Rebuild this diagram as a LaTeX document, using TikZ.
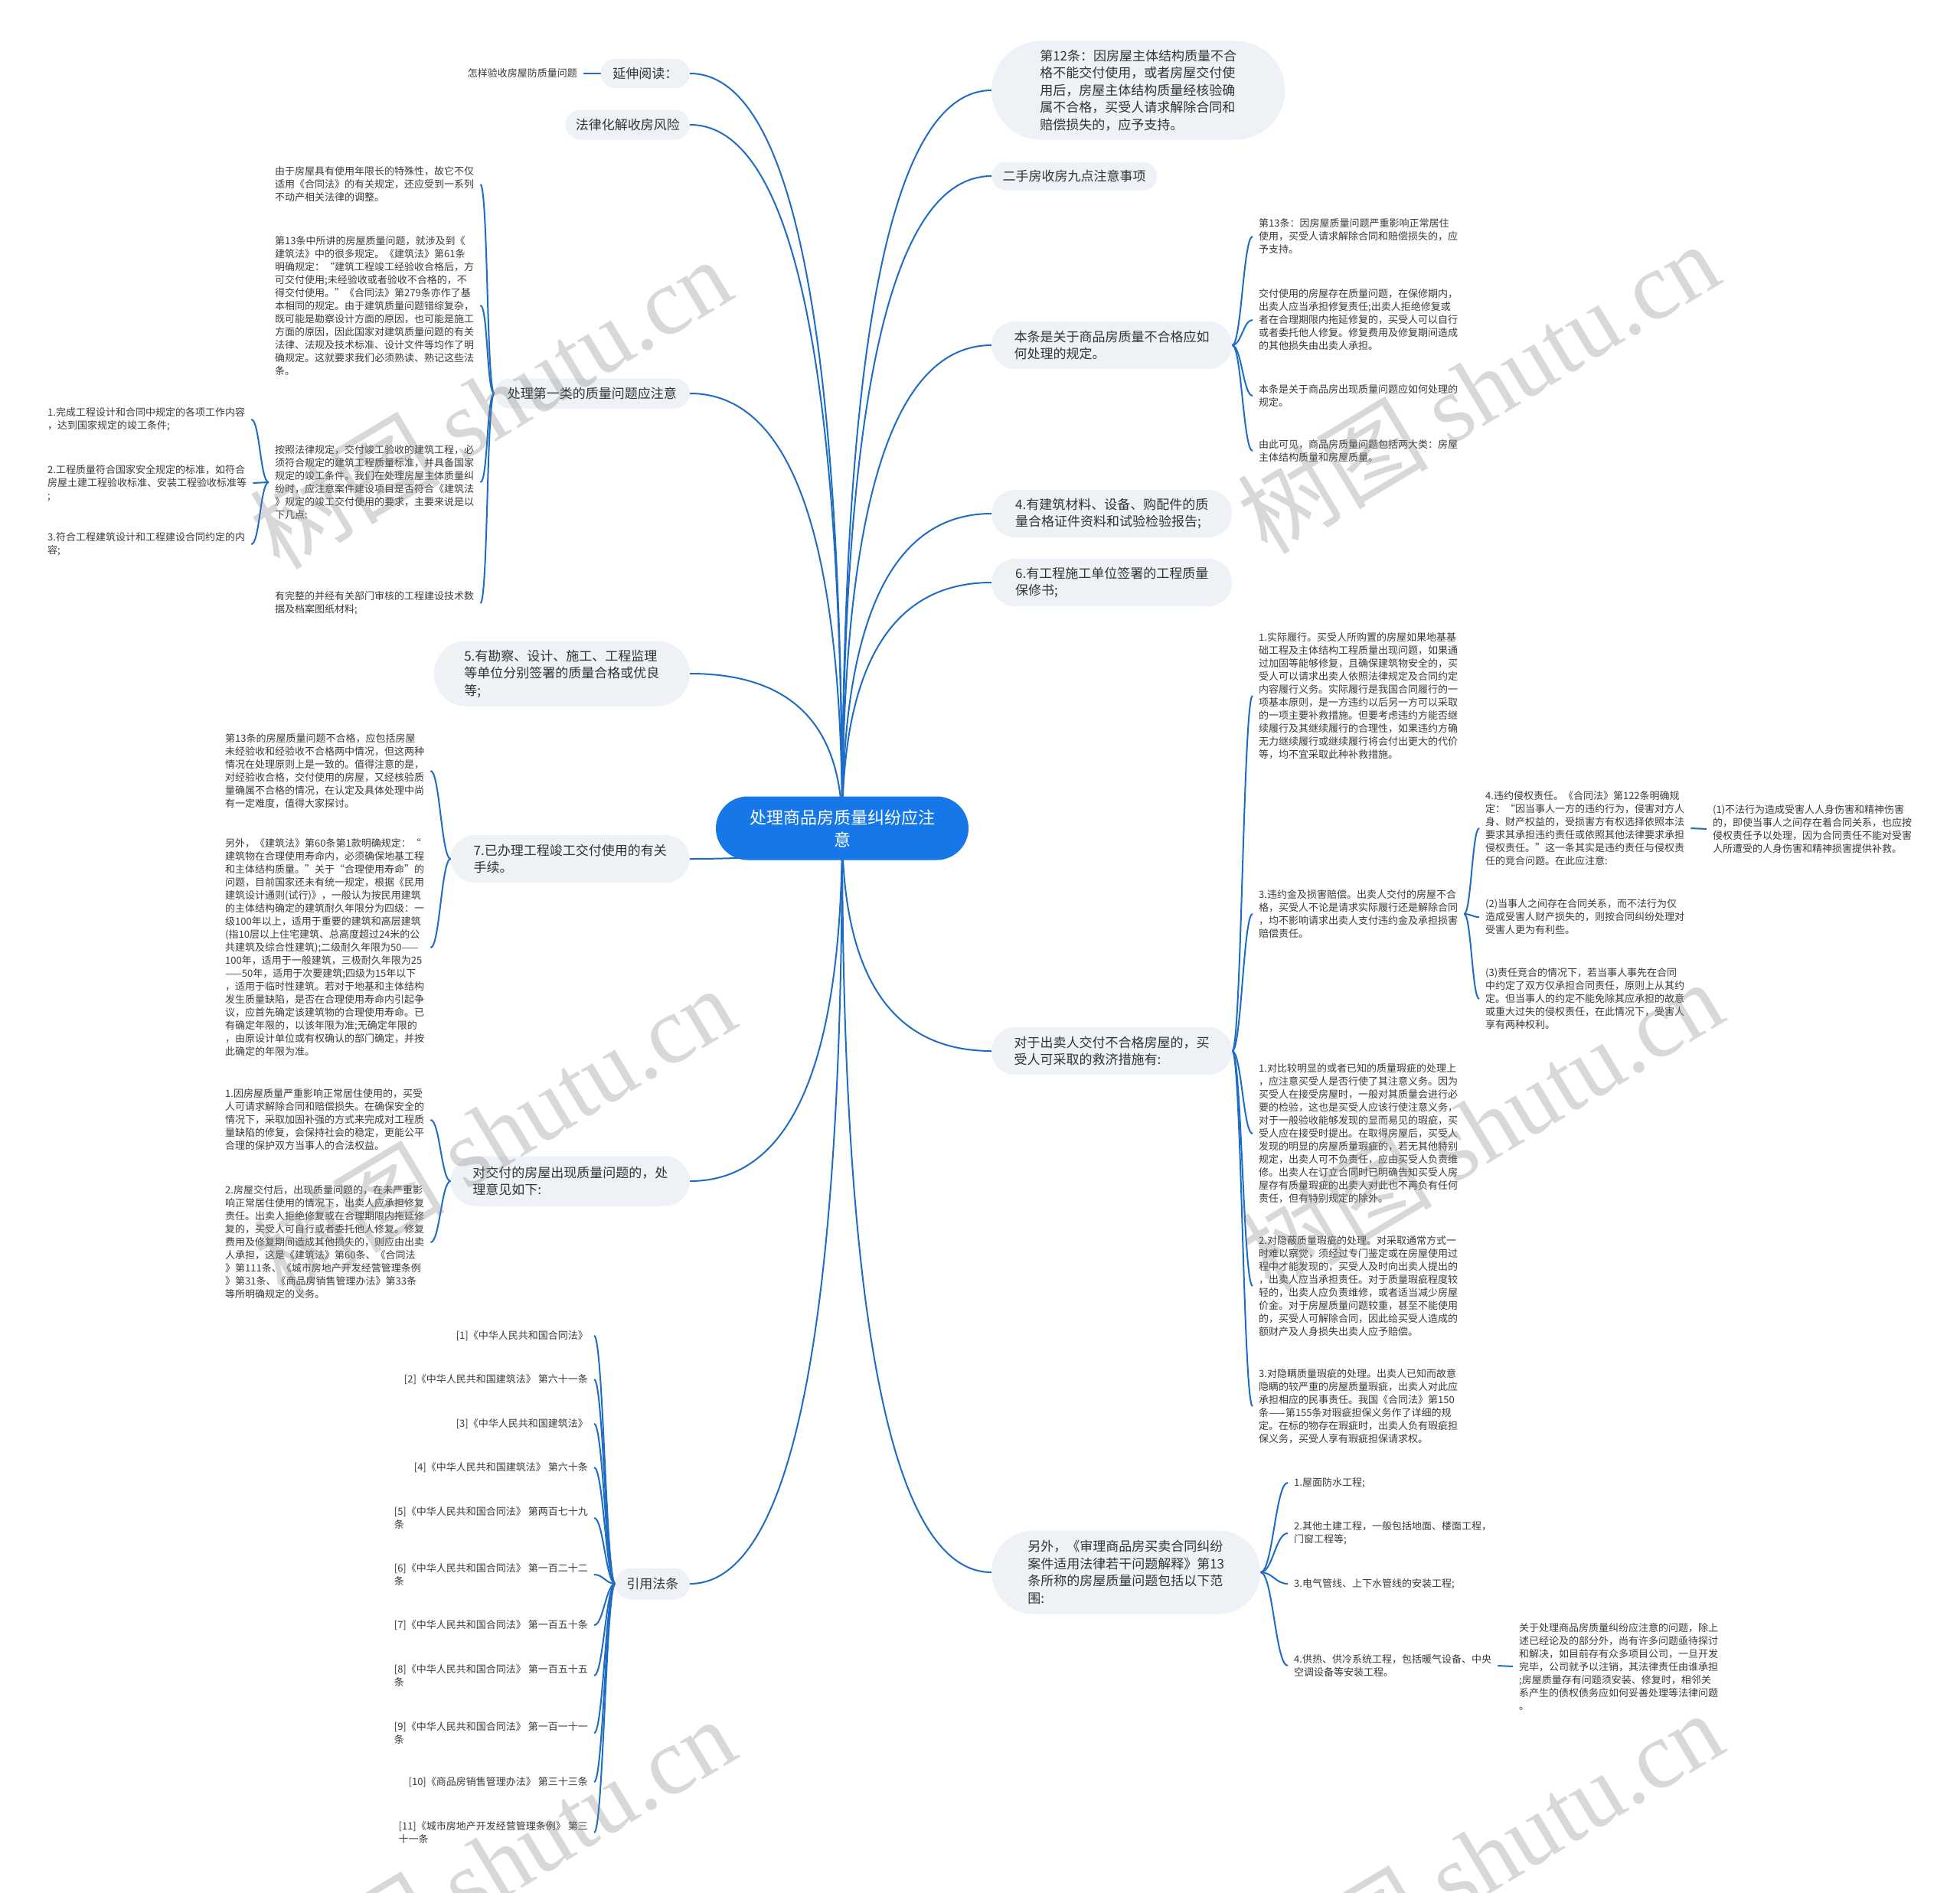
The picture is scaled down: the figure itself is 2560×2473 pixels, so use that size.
\documentclass[tikz,border=0pt]{standalone}
\usepackage{fontspec}
\setmainfont{Noto Sans CJK SC}
\newfontfamily\wmlatin{Liberation Serif}
\usetikzlibrary{shapes.misc}
\pgfdeclarelayer{background}
\pgfsetlayers{background,main}
\definecolor{conncol}{HTML}{1F6CC4}
\definecolor{rootfill}{HTML}{1677E8}
\definecolor{topicfill}{HTML}{EEF1F5}
\definecolor{topictext}{HTML}{333333}
\definecolor{leaftext}{HTML}{3A3A3A}
\begin{document}
\begin{tikzpicture}[x=1pt,y=-1pt,
  conn/.style={draw=conncol,line width=2pt},
  brR/.style={to path={.. controls +(#1,0) and +(-#1,0) .. (\tikztotarget)}},
  brR/.default=13,
  brL/.style={to path={.. controls +(-#1,0) and +(#1,0) .. (\tikztotarget)}},
  brL/.default=13,
  topic/.style={rounded rectangle,fill=topicfill,text=topictext,font=\fontsize{17}{22.5}\selectfont,align=left,inner xsep=2pt,inner ysep=8pt},
  leaf/.style={text=leaftext,font=\fontsize{13}{17}\selectfont,align=left,inner xsep=8pt,inner ysep=1pt},
  rootnode/.style={rounded rectangle,fill=rootfill,text=white,font=\fontsize{22}{29}\selectfont,align=center,inner xsep=4pt,minimum width=338pt,minimum height=83pt},
  wm/.style={text=gray,text opacity=0.3,font=\fontsize{125}{125}\selectfont,rotate=31}
]
\useasboundingbox (0,0) rectangle (2560,2473);

% ---------- root ----------
\node[rootnode] (root) at (1100,1082) {处理商品房质量纠纷应注\\意};

% ---------- right topics ----------
\node[topic,minimum width=387pt,minimum height=129pt,anchor=west] (N1) at (1295,118) {第12条：因房屋主体结构质量不合\\格不能交付使用，或者房屋交付使\\用后，房屋主体结构质量经核验确\\属不合格，买受人请求解除合同和\\赔偿损失的，应予支持。};
\node[topic,minimum width=220pt,minimum height=37pt,anchor=west] (N2) at (1295,230) {二手房收房九点注意事项};
\node[topic,minimum width=318pt,minimum height=62pt,anchor=west] (N3) at (1295,451) {本条是关于商品房质量不合格应如\\何处理的规定。};
\node[topic,minimum width=318pt,minimum height=62pt,anchor=west] (N4) at (1295,671) {4.有建筑材料、设备、购配件的质\\量合格证件资料和试验检验报告;};
\node[topic,minimum width=318pt,minimum height=62pt,anchor=west] (N5) at (1295,761) {6.有工程施工单位签署的工程质量\\保修书;};
\node[topic,minimum width=318pt,minimum height=62pt,anchor=west] (N6) at (1295,1373) {对于出卖人交付不合格房屋的，买\\受人可采取的救济措施有:};
\node[topic,minimum width=355pt,minimum height=109pt,anchor=west] (N7) at (1295,2054) {另外，《审理商品房买卖合同纠纷\\案件适用法律若干问题解释》第13\\条所称的房屋质量问题包括以下范\\围:};

% ---------- left topics ----------
\node[topic,minimum width=120pt,minimum height=38pt,anchor=east] (La) at (901,96) {延伸阅读：};
\node[topic,minimum width=166pt,minimum height=39pt,anchor=east] (Lb) at (901,163) {法律化解收房风险};
\node[topic,minimum width=259pt,minimum height=39pt,anchor=east] (Lc) at (901,514) {处理第一类的质量问题应注意};
\node[topic,minimum width=338pt,minimum height=85pt,anchor=east] (Ld) at (901,880) {5.有勘察、设计、施工、工程监理\\等单位分别签署的质量合格或优良\\等;};
\node[topic,minimum width=316pt,minimum height=62pt,anchor=east] (Le) at (901,1122) {7.已办理工程竣工交付使用的有关\\手续。};
\node[topic,minimum width=316pt,minimum height=65pt,anchor=east] (Lf) at (901,1543) {对交付的房屋出现质量问题的，处\\理意见如下:};
\node[topic,minimum width=101pt,minimum height=41pt,anchor=east] (Lg) at (901,2069) {引用法条};

% ---------- left leaves ----------
\node[leaf,anchor=east] (a1) at (762,96) {怎样验收房屋防质量问题};

\node[leaf,anchor=west] (c1) at (351,241) {由于房屋具有使用年限长的特殊性，故它不仅\\适用《合同法》的有关规定，还应受到一系列\\不动产相关法律的调整。};
\node[leaf,anchor=west] (c2) at (351,399) {第13条中所讲的房屋质量问题，就涉及到《\\建筑法》中的很多规定。《建筑法》第61条\\明确规定：“建筑工程竣工经验收合格后，方\\可交付使用;未经验收或者验收不合格的，不\\得交付使用。”《合同法》第279条亦作了基\\本相同的规定。由于建筑质量问题错综复杂，\\既可能是勘察设计方面的原因，也可能是施工\\方面的原因，因此国家对建筑质量问题的有关\\法律、法规及技术标准、设计文件等均作了明\\确规定。这就要求我们必须熟读、熟记这些法\\条。};
\node[leaf,anchor=west] (c3) at (351,630) {按照法律规定，交付竣工验收的建筑工程，必\\须符合规定的建筑工程质量标准，并具备国家\\规定的竣工条件。我们在处理房屋主体质量纠\\纷时，应注意案件建设项目是否符合《建筑法\\》规定的竣工交付使用的要求，主要来说是以\\下几点:};
\node[leaf,anchor=west] (c4) at (351,788) {有完整的并经有关部门审核的工程建设技术数\\据及档案图纸材料;};

\node[leaf,anchor=west] (c3a) at (54,548) {1.完成工程设计和合同中规定的各项工作内容\\，达到国家规定的竣工条件;};
\node[leaf,anchor=west] (c3b) at (54,631) {2.工程质量符合国家安全规定的标准，如符合\\房屋土建工程验收标准、安装工程验收标准等\\;};
\node[leaf,anchor=west] (c3c) at (54,711) {3.符合工程建筑设计和工程建设合同约定的内\\容;};

\node[leaf,anchor=west] (e1) at (286,1007) {第13条的房屋质量问题不合格，应包括房屋\\未经验收和经验收不合格两中情况，但这两种\\情况在处理原则上是一致的。值得注意的是，\\对经验收合格，交付使用的房屋，又经核验质\\量确属不合格的情况，在认定及具体处理中尚\\有一定难度，值得大家探讨。};
\node[leaf,anchor=west] (e2) at (286,1238) {另外，《建筑法》第60条第1款明确规定：“\\建筑物在合理使用寿命内，必须确保地基工程\\和主体结构质量。”关于“合理使用寿命”的\\问题，目前国家还未有统一规定，根据《民用\\建筑设计通则(试行)》，一般认为按民用建筑\\的主体结构确定的建筑耐久年限分为四级：一\\级100年以上，适用于重要的建筑和高层建筑\\(指10层以上住宅建筑、总高度超过24米的公\\共建筑及综合性建筑);二级耐久年限为50——\\100年，适用于一般建筑，三极耐久年限为25\\——50年，适用于次要建筑;四级为15年以下\\，适用于临时性建筑。若对于地基和主体结构\\发生质量缺陷，是否在合理使用寿命内引起争\\议，应首先确定该建筑物的合理使用寿命。已\\有确定年限的，以该年限为准;无确定年限的\\，由原设计单位或有权确认的部门确定，并按\\此确定的年限为准。};

\node[leaf,anchor=west] (f1) at (286,1463) {1.因房屋质量严重影响正常居住使用的，买受\\人可请求解除合同和赔偿损失。在确保安全的\\情况下，采取加固补强的方式来完成对工程质\\量缺陷的修复，会保持社会的稳定，更能公平\\合理的保护双方当事人的合法权益。};
\node[leaf,anchor=west] (f2) at (286,1623) {2.房屋交付后，出现质量问题的，在未严重影\\响正常居住使用的情况下，出卖人应承担修复\\责任。出卖人拒绝修复或在合理期限内拖延修\\复的，买受人可自行或者委托他人修复。修复\\费用及修复期间造成其他损失的，则应由出卖\\人承担，这是《建筑法》第60条、《合同法\\》第111条、《城市房地产开发经营管理条例\\》第31条、《商品房销售管理办法》第33条\\等所明确规定的义务。};

\node[leaf,anchor=east] (g1) at (776,1745) {[1]《中华人民共和国合同法》};
\node[leaf,anchor=east] (g2) at (776,1802) {[2]《中华人民共和国建筑法》 第六十一条};
\node[leaf,anchor=east] (g3) at (776,1860) {[3]《中华人民共和国建筑法》};
\node[leaf,anchor=east] (g4) at (776,1917) {[4]《中华人民共和国建筑法》 第六十条};
\node[leaf,anchor=east] (g5) at (776,1983) {[5]《中华人民共和国合同法》 第两百七十九\\条};
\node[leaf,anchor=east] (g6) at (776,2057) {[6]《中华人民共和国合同法》 第一百二十二\\条};
\node[leaf,anchor=east] (g7) at (776,2123) {[7]《中华人民共和国合同法》 第一百五十条};
\node[leaf,anchor=east] (g8) at (776,2189) {[8]《中华人民共和国合同法》 第一百五十五\\条};
\node[leaf,anchor=east] (g9) at (776,2264) {[9]《中华人民共和国合同法》 第一百一十一\\条};
\node[leaf,anchor=east] (g10) at (776,2328) {[10]《商品房销售管理办法》 第三十三条};
\node[leaf,anchor=east] (g11) at (776,2394) {[11]《城市房地产开发经营管理条例》 第三\\十一条};

% ---------- right leaves ----------
\node[leaf,anchor=west] (r3a) at (1636,309) {第13条：因房屋质量问题严重影响正常居住\\使用，买受人请求解除合同和赔偿损失的，应\\予支持。};
\node[leaf,anchor=west] (r3b) at (1636,418) {交付使用的房屋存在质量问题，在保修期内，\\出卖人应当承担修复责任;出卖人拒绝修复或\\者在合理期限内拖延修复的，买受人可以自行\\或者委托他人修复。修复费用及修复期间造成\\的其他损失由出卖人承担。};
\node[leaf,anchor=west] (r3c) at (1636,517) {本条是关于商品房出现质量问题应如何处理的\\规定。};
\node[leaf,anchor=west] (r3d) at (1636,589) {由此可见，商品房质量问题包括两大类：房屋\\主体结构质量和房屋质量。};

\node[leaf,anchor=west] (r6a) at (1636,909) {1.实际履行。买受人所购置的房屋如果地基基\\础工程及主体结构工程质量出现问题，如果通\\过加固等能够修复，且确保建筑物安全的，买\\受人可以请求出卖人依照法律规定及合同约定\\内容履行义务。实际履行是我国合同履行的一\\项基本原则，是一方违约以后另一方可以采取\\的一项主要补救措施。但要考虑违约方能否继\\续履行及其继续履行的合理性，如果违约方确\\无力继续履行或继续履行将会付出更大的代价\\等，均不宜采取此种补救措施。};
\node[leaf,anchor=west] (r6b) at (1636,1194) {3.违约金及损害赔偿。出卖人交付的房屋不合\\格，买受人不论是请求实际履行还是解除合同\\，均不影响请求出卖人支付违约金及承担损害\\赔偿责任。};
\node[leaf,anchor=west] (r6c) at (1636,1481) {1.对比较明显的或者已知的质量瑕疵的处理上\\，应注意买受人是否行使了其注意义务。因为\\买受人在接受房屋时，一般对其质量会进行必\\要的检验，这也是买受人应该行使注意义务，\\对于一般验收能够发现的显而易见的瑕疵，买\\受人应在接受时提出。在取得房屋后，买受人\\发现的明显的房屋质量瑕疵的，若无其他特别\\规定，出卖人可不负责任，应由买受人负责维\\修。出卖人在订立合同时已明确告知买受人房\\屋存有质量瑕疵的出卖人对此也不再负有任何\\责任，但有特别规定的除外。};
\node[leaf,anchor=west] (r6d) at (1636,1680) {2.对隐蔽质量瑕疵的处理。对采取通常方式一\\时难以察觉，须经过专门鉴定或在房屋使用过\\程中才能发现的，买受人及时向出卖人提出的\\，出卖人应当承担责任。对于质量瑕疵程度较\\轻的，出卖人应负责维修，或者适当减少房屋\\价金。对于房屋质量问题较重，甚至不能使用\\的，买受人可解除合同，因此给买受人造成的\\额财产及人身损失出卖人应予赔偿。};
\node[leaf,anchor=west] (r6e) at (1636,1837) {3.对隐瞒质量瑕疵的处理。出卖人已知而故意\\隐瞒的较严重的房屋质量瑕疵，出卖人对此应\\承担相应的民事责任。我国《合同法》第150\\条——第155条对瑕疵担保义务作了详细的规\\定。在标的物存在瑕疵时，出卖人负有瑕疵担\\保义务，买受人享有瑕疵担保请求权。};

\node[leaf,anchor=west] (r6b1) at (1932,1082) {4.违约侵权责任。《合同法》第122条明确规\\定：“因当事人一方的违约行为，侵害对方人\\身、财产权益的，受损害方有权选择依照本法\\要求其承担违约责任或依照其他法律要求承担\\侵权责任。”这一条其实是违约责任与侵权责\\任的竞合问题。在此应注意:};
\node[leaf,anchor=west] (r6b2) at (1932,1198) {(2)当事人之间存在合同关系，而不法行为仅\\造成受害人财产损失的，则按合同纠纷处理对\\受害人更为有利些。};
\node[leaf,anchor=west] (r6b3) at (1932,1305) {(3)责任竞合的情况下，若当事人事先在合同\\中约定了双方仅承担合同责任，原则上从其约\\定。但当事人的约定不能免除其应承担的故意\\或重大过失的侵权责任，在此情况下，受害人\\享有两种权利。};
\node[leaf,anchor=west] (r6b1x) at (2229,1083) {(1)不法行为造成受害人人身伤害和精神伤害\\的，即使当事人之间存在着合同关系，也应按\\侵权责任予以处理，因为合同责任不能对受害\\人所遭受的人身伤害和精神损害提供补救。};

\node[leaf,anchor=west] (r7a) at (1682,1937) {1.屋面防水工程;};
\node[leaf,anchor=west] (r7b) at (1682,2003) {2.其他土建工程，一般包括地面、楼面工程，\\门窗工程等;};
\node[leaf,anchor=west] (r7c) at (1682,2069) {3.电气管线、上下水管线的安装工程;};
\node[leaf,anchor=west] (r7d) at (1682,2176) {4.供热、供冷系统工程，包括暖气设备、中央\\空调设备等安装工程。};
\node[leaf,anchor=west] (r7dx) at (1976,2177) {关于处理商品房质量纠纷应注意的问题，除上\\述已经论及的部分外，尚有许多问题亟待探讨\\和解决，如目前存有众多项目公司，一旦开发\\完毕，公司就予以注销，其法律责任由谁承担\\;房屋质量存有问题须安装、修复时，相邻关\\系产生的债权债务应如何妥善处理等法律问题\\。};

% ---------- connectors ----------
\begin{pgfonlayer}{background}
\fill[white] (0,0) rectangle (2560,2473);
\draw[conn] (root.center) .. controls +(0,-643) and +(-130,0) .. (N1.west);
\draw[conn] (root.center) .. controls +(0,-568) and +(-130,0) .. (N2.west);
\draw[conn] (root.center) .. controls +(0,-421) and +(-130,0) .. (N3.west);
\draw[conn] (root.center) .. controls +(0,-274) and +(-130,0) .. (N4.west);
\draw[conn] (root.center) .. controls +(0,-214) and +(-130,0) .. (N5.west);
\draw[conn] (root.center) .. controls +(0,194) and +(-130,0) .. (N6.west);
\draw[conn] (root.center) .. controls +(0,648) and +(-130,0) .. (N7.west);
\draw[conn] (root.center) .. controls +(0,-657) and +(133,0) .. (La.east);
\draw[conn] (root.center) .. controls +(0,-613) and +(133,0) .. (Lb.east);
\draw[conn] (root.center) .. controls +(0,-379) and +(133,0) .. (Lc.east);
\draw[conn] (root.center) .. controls +(0,-135) and +(133,0) .. (Ld.east);
\draw[conn] (root.center) .. controls +(0,27) and +(133,0) .. (Le.east);
\draw[conn] (root.center) .. controls +(0,307) and +(133,0) .. (Lf.east);
\draw[conn] (root.center) .. controls +(0,658) and +(133,0) .. (Lg.east);

\draw[conn] (La.west) -- (a1.east);
\foreach \c in {c1,c2,c3,c4} \draw[conn] (Lc.west) to[brL=10] (\c.east);
\foreach \c in {c3a,c3b,c3c} \draw[conn] (c3.west) to[brL=11] (\c.east);
\foreach \c in {e1,e2} \draw[conn] (Le.west) to[brL=12] (\c.east);
\foreach \c in {f1,f2} \draw[conn] (Lf.west) to[brL=12] (\c.east);
\foreach \c in {g1,g2,g3,g4,g5,g6,g7,g8,g9,g10,g11} \draw[conn] (Lg.west) to[brL=12] (\c.east);

\foreach \c in {r3a,r3b,r3c,r3d} \draw[conn] (N3.east) to[brR=12] (\c.west);
\foreach \c in {r6a,r6b,r6c,r6d,r6e} \draw[conn] (N6.east) to[brR=12] (\c.west);
\foreach \c in {r6b1,r6b2,r6b3} \draw[conn] (r6b.east) to[brR=9] (\c.west);
\draw[conn] (r6b1.east) -- (r6b1x.west);
\foreach \c in {r7a,r7b,r7c,r7d} \draw[conn] (N7.east) to[brR=16] (\c.west);
\draw[conn] (r7d.east) -- (r7dx.west);
\end{pgfonlayer}

% ---------- watermark ----------
\node[wm] (w1) at (640,526) {树图 {\wmlatin shutu.cn}};
\node[wm] (w2) at (1930,506) {树图 {\wmlatin shutu.cn}};
\node[wm] (w3) at (645,1478) {树图 {\wmlatin shutu.cn}};
\node[wm] (w4) at (1935,1470) {树图 {\wmlatin shutu.cn}};
\node[wm] (w5) at (645,2433) {树图 {\wmlatin shutu.cn}};
\node[wm] (w6) at (1935,2425) {树图 {\wmlatin shutu.cn}};
\end{tikzpicture}
\end{document}
